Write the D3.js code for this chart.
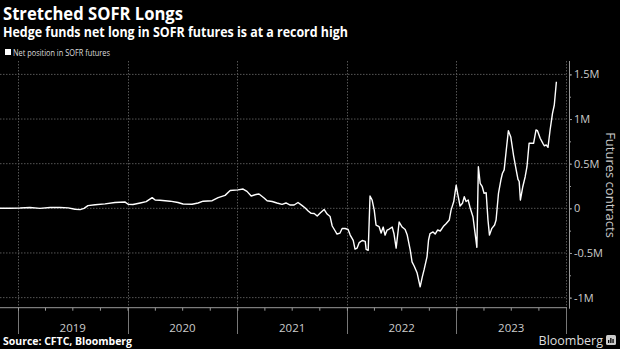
<!DOCTYPE html>
<html><head><meta charset="utf-8">
<script src="https://cdn.jsdelivr.net/npm/d3@7"></script>
<style>
html,body{margin:0;padding:0;background:#000;}
svg{display:block;}
text{font-family:"Open Sans","DejaVu Sans",sans-serif;}
</style></head>
<body>
<svg id="chart" width="620" height="349"></svg>
<script>
const title = "Stretched SOFR Longs";
const subtitle = "Hedge funds net long in SOFR futures is at a record high";
const legendLabel = "Net position in SOFR futures";
const axisTitle = "Futures contracts";
const sourceText = "Source: CFTC, Bloomberg";
const yearLabels = ["2019","2020","2021","2022","2023"];
const yTicks = [-1, -0.5, 0, 0.5, 1, 1.5];
const yTickLabels = ["-1M","-0.5M","0","0.5M","1M","1.5M"];

const dates = ["2018-11-02","2018-12-05","2019-01-08","2019-02-10","2019-03-15","2019-04-18","2019-05-21","2019-06-17","2019-07-10","2019-07-27","2019-08-09","2019-08-22","2019-09-15","2019-10-18","2019-11-20","2019-12-24","2020-01-03","2020-01-19","2020-02-12","2020-03-03","2020-03-23","2020-04-02","2020-04-18","2020-05-22","2020-06-17","2020-07-04","2020-08-03","2020-08-23","2020-09-09","2020-10-09","2020-10-29","2020-11-21","2020-12-08","2021-01-03","2021-01-20","2021-02-02","2021-02-16","2021-03-04","2021-03-14","2021-03-31","2021-04-10","2021-04-27","2021-05-13","2021-05-30","2021-06-12","2021-06-26","2021-07-09","2021-07-22","2021-08-05","2021-08-15","2021-08-25","2021-09-04","2021-09-14","2021-09-24","2021-10-04","2021-10-17","2021-10-27","2021-11-06","2021-11-13","2021-11-23","2021-11-29","2021-12-09","2021-12-16","2021-12-26","2022-01-05","2022-01-12","2022-01-22","2022-01-28","2022-02-04","2022-02-11","2022-02-21","2022-03-03","2022-03-06","2022-03-13","2022-03-19","2022-03-26","2022-04-02","2022-04-08","2022-04-18","2022-04-25","2022-05-02","2022-05-08","2022-05-15","2022-05-22","2022-06-01","2022-06-07","2022-06-14","2022-06-24","2022-07-04","2022-07-14","2022-07-21","2022-07-31","2022-08-06","2022-08-13","2022-08-23","2022-09-02","2022-09-09","2022-09-15","2022-09-25","2022-09-30","2022-10-05","2022-10-15","2022-10-22","2022-10-30","2022-11-08","2022-11-18","2022-11-28","2022-12-08","2022-12-14","2022-12-23","2022-12-31","2023-01-05","2023-01-13","2023-01-21","2023-01-27","2023-02-02","2023-02-09","2023-02-16","2023-02-25","2023-03-04","2023-03-10","2023-03-15","2023-03-21","2023-03-28","2023-04-03","2023-04-10","2023-04-16","2023-04-21","2023-04-29","2023-05-08","2023-05-13","2023-05-21","2023-05-29","2023-06-03","2023-06-09","2023-06-16","2023-06-23","2023-07-01","2023-07-10","2023-07-19","2023-07-25","2023-07-29","2023-08-02","2023-08-10","2023-08-18","2023-08-24","2023-08-31","2023-09-15","2023-09-23","2023-09-28","2023-10-07","2023-10-16","2023-10-21","2023-10-27","2023-11-02","2023-11-09","2023-11-17","2023-11-23","2023-11-30"];
// net position, millions of contracts
const netPosition = [0.00,0.00,0.003,0.01,0.00,0.01,0.01,0.005,-0.01,-0.015,0.00,0.03,0.04,0.05,0.065,0.07,0.045,0.043,0.06,0.075,0.12,0.093,0.09,0.08,0.065,0.048,0.045,0.06,0.08,0.085,0.12,0.145,0.20,0.207,0.216,0.19,0.138,0.155,0.16,0.115,0.085,0.076,0.06,0.045,0.06,0.037,0.037,0.065,0.03,0.003,-0.03,-0.056,-0.058,-0.086,-0.053,-0.013,-0.064,-0.092,-0.198,-0.254,-0.288,-0.277,-0.226,-0.226,-0.237,-0.30,-0.36,-0.456,-0.445,-0.384,-0.36,-0.37,-0.46,-0.47,0.138,0.093,-0.02,-0.187,-0.204,-0.277,-0.21,-0.30,-0.243,-0.232,-0.21,-0.288,-0.445,-0.153,-0.21,-0.237,-0.30,-0.467,-0.60,-0.646,-0.725,-0.88,-0.77,-0.69,-0.54,-0.355,-0.282,-0.265,-0.288,-0.243,-0.254,-0.204,-0.17,-0.131,-0.02,0.076,0.26,0.166,0.026,0.056,0.13,0.076,0.093,0.00,-0.094,-0.277,-0.437,0.466,0.28,0.242,0.168,0.175,-0.131,-0.30,-0.224,-0.187,-0.131,0.168,0.317,0.39,0.43,0.653,0.87,0.80,0.597,0.43,0.325,0.30,0.093,0.242,0.354,0.466,0.728,0.728,0.877,0.87,0.785,0.728,0.70,0.71,0.683,0.877,1.064,1.157,1.418];

const parse = d3.timeParse("%Y-%m-%d");
const data = dates.map((d,i)=>({date:parse(d), v:netPosition[i]}));

const svg = d3.select("#chart");
const W = 620, H = 349;
const plotLeft = 0, plotRight = 568, plotTop = 61, plotBottom = 307.7;

const x = d3.scaleTime()
  .domain([parse("2019-01-01"), parse("2024-01-01")])
  .range([18, 566]);
const y = d3.scaleLinear()
  .domain([-1.113, 1.65])
  .range([plotBottom, plotTop]);

svg.append("rect").attr("width",W).attr("height",H).attr("fill","#000");

const headFont = '"Liberation Sans",Arial,sans-serif';
// titles
svg.append("text").text(title).attr("x",3).attr("y",19.5)
  .attr("font-family",headFont)
  .attr("fill","#fff").attr("font-weight","bold").attr("font-size",17)
  .attr("textLength",180).attr("lengthAdjust","spacingAndGlyphs");
svg.append("text").text(subtitle).attr("x",3).attr("y",36.5)
  .attr("font-family",headFont)
  .attr("fill","#fff").attr("font-weight","bold").attr("font-size",13.5)
  .attr("textLength",345).attr("lengthAdjust","spacingAndGlyphs");

// legend
svg.append("rect").attr("x",5).attr("y",49).attr("width",6).attr("height",6).attr("fill","#fff");
svg.append("text").text(legendLabel).attr("x",13).attr("y",55.5)
  .attr("fill","#ddd").attr("font-size",8.5)
  .attr("textLength",97).attr("lengthAdjust","spacingAndGlyphs");

// horizontal gridlines
svg.append("g").selectAll("line").data(yTicks).join("line")
  .attr("x1",plotLeft).attr("x2",567)
  .attr("y1",d=>y(d)).attr("y2",d=>y(d))
  .attr("stroke","#555").attr("stroke-width",1).attr("stroke-dasharray","1.5,1.5");

// year boundaries
const yearStarts = d3.timeYear.range(parse("2019-01-01"), parse("2024-01-02"));
svg.append("g").selectAll("line").data(yearStarts).join("line")
  .attr("x1",d=>Math.round(x(d))+0.5).attr("x2",d=>Math.round(x(d))+0.5)
  .attr("y1",plotTop).attr("y2",plotBottom)
  .attr("stroke","#555").attr("stroke-width",1).attr("stroke-dasharray","1.5,1.5");
svg.append("g").selectAll("line").data(yearStarts).join("line")
  .attr("x1",d=>Math.round(x(d))+0.5).attr("x2",d=>Math.round(x(d))+0.5)
  .attr("y1",plotBottom).attr("y2",334)
  .attr("stroke","#777").attr("stroke-width",1);

// bottom axis
const xAxis = d3.axisBottom(x)
  .tickValues(d3.timeMonth.every(3).range(parse("2018-10-01"), parse("2024-01-01")))
  .tickSize(3).tickFormat("");
const gx = svg.append("g").attr("transform",`translate(0,${plotBottom})`).call(xAxis);
gx.select(".domain").attr("d",`M0,0H567`).attr("stroke","#999");
gx.selectAll(".tick line").attr("stroke","#999");

// year labels
svg.append("g").selectAll("text").data(yearLabels).join("text")
  .text(d=>d)
  .attr("x",d=>(x(parse(d+"-01-01"))+x(parse((+d+1)+"-01-01")))/2)
  .attr("y",332).attr("text-anchor","middle")
  .attr("fill","#ccc").attr("font-size",11.5);

// right axis
const yMinor = d3.range(-1, 1.51, 0.25);
const gyMinor = svg.append("g").attr("transform",`translate(569,0)`)
  .call(d3.axisRight(y).tickValues(yMinor).tickSize(2).tickFormat(""));
gyMinor.select(".domain").remove();
gyMinor.selectAll(".tick line").attr("stroke","#999");
const gy = svg.append("g").attr("transform",`translate(569,0)`)
  .call(d3.axisRight(y).tickValues(yTicks).tickSize(3).tickPadding(2)
    .tickFormat((d,i)=>yTickLabels[i]));
gy.select(".domain").attr("d",`M0.5,${plotTop}V${plotBottom+1}`).attr("stroke","#999");
gy.selectAll(".tick line").attr("stroke","#999");
gy.selectAll(".tick text").attr("fill","#ccc").attr("font-size",11)
  .attr("font-family",'"Open Sans","DejaVu Sans",sans-serif');

svg.append("text").text(axisTitle)
  .attr("transform","translate(606,185) rotate(90)")
  .attr("text-anchor","middle").attr("fill","#ccc").attr("font-size",13);

// line
const line = d3.line().x(d=>x(d.date)).y(d=>y(d.v));
svg.append("path").datum(data).attr("d",line)
  .attr("fill","none").attr("stroke","#fff").attr("stroke-width",1.4)
  .attr("stroke-linejoin","round");

// footer
svg.append("text").text(sourceText).attr("x",3).attr("y",345)
  .attr("font-family",headFont)
  .attr("fill","#fff").attr("font-weight","bold").attr("font-size",10.5)
  .attr("textLength",129).attr("lengthAdjust","spacingAndGlyphs");
svg.append("text").text("Bloomberg").attr("x",603).attr("y",345)
  .attr("text-anchor","end").attr("fill","#ddd").attr("font-size",12.5);
const ic = svg.append("g").attr("transform","translate(606,335)");
ic.append("rect").attr("width",10).attr("height",10).attr("rx",1.5).attr("fill","#ccc");
[[2,5],[4.2,3],[6.4,4]].forEach(([bx,bt])=>ic.append("rect").attr("x",bx).attr("y",bt).attr("width",1.3).attr("height",8-bt).attr("fill","#000"));
</script>
</body></html>
